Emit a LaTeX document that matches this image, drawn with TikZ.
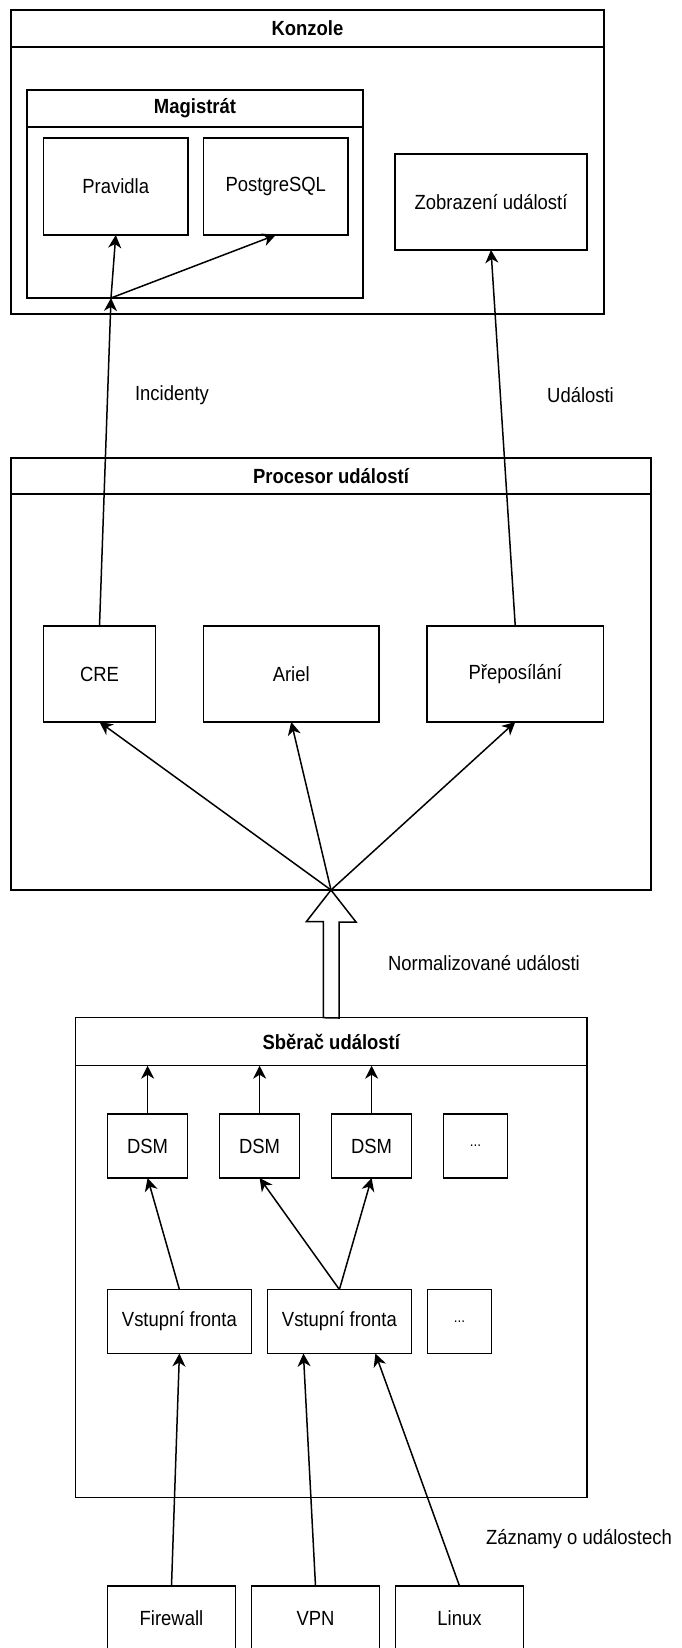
\documentclass[tikz,border=0pt]{standalone}
\usepackage{fontspec}
\setmainfont{Liberation Sans}[FakeStretch=0.9]
\usetikzlibrary{arrows.meta, positioning, calc}

\begin{document}
\begin{tikzpicture}[
    x=1pt, y=-1pt,
    line width=1.5pt,
    font=\fontsize{20.5}{24}\selectfont,
    node distance=16pt,
    box/.style={draw, rectangle, inner sep=0pt, outer sep=0pt, minimum height=96pt},
    group/.style={draw, rectangle, inner sep=0pt, outer sep=0pt},
    head/.style={draw, rectangle, inner sep=0pt, outer sep=0pt, font=\fontsize{20.5}{24}\selectfont\bfseries},
    lbl/.style={inner sep=0pt},
    arr/.style={-{Stealth[length=13pt, width=13pt, inset=4pt]}},
    fat/.style={fill=white, line join=miter}
]

\useasboundingbox (0,0) rectangle (682,1648);

% Konzole
\node[group, minimum width=593pt, minimum height=304pt] (konzole) at (307.5,162) {};
\node[head, minimum width=593pt, minimum height=37pt, below=0pt of konzole.north] (konzolehead) {Konzole};
\node[group, minimum width=336pt, minimum height=208pt] (magistrat) at (195,194) {};
\node[head, minimum width=336pt, minimum height=37pt, below=0pt of magistrat.north] (magistrathead) {Magistrát};
\node[box, minimum width=144.5pt, minimum height=97pt] (pravidla) at (115.75,186.5) {Pravidla};
\node[box, minimum width=144.5pt, minimum height=97pt, right=15.5pt of pravidla] (postgres) {PostgreSQL};
\node[box, minimum width=192pt] (zobrazeni) at (491,202) {Zobrazení událostí};

% Procesor
\node[group, minimum width=640pt, minimum height=432pt] (procesor) at (331,674) {};
\node[head, minimum width=640pt, minimum height=36pt, below=0pt of procesor.north] (procesorhead) {Procesor událostí};
\node[box, minimum width=112pt] (cre) at (99.5,674) {CRE};
\node[box, minimum width=175.5pt, right=48pt of cre] (ariel) {Ariel};
\node[box, minimum width=176.5pt, right=48pt of ariel] (preposilani) {Přeposílání};

% Sberac
\node[group, minimum width=511.4pt, minimum height=480pt] (sberac) at (331.3,1257.7) {};
\node[head, minimum width=511.4pt, minimum height=48pt, below=0pt of sberac.north] (sberachead) {Sběrač událostí};
\node[box, minimum width=80pt, minimum height=64pt] (dsm1) at (147.6,1146) {DSM};
\node[box, minimum width=80pt, minimum height=64pt, right=32pt of dsm1] (dsm2) {DSM};
\node[box, minimum width=80pt, minimum height=64pt, right=32pt of dsm2] (dsm3) {DSM};
\node[box, minimum width=64pt, minimum height=64pt, right=32pt of dsm3, font=\fontsize{15}{18}\selectfont] (dsmx) {...};
\node[box, minimum width=144pt, minimum height=64pt] (fronta1) at (179.4,1321.5) {Vstupní fronta};
\node[box, minimum width=144pt, minimum height=64pt, right=of fronta1] (fronta2) {Vstupní fronta};
\node[box, minimum width=64pt, minimum height=64pt, right=of fronta2, font=\fontsize{15}{18}\selectfont] (frontax) {...};

% zdroje
\node[box, minimum width=128pt, minimum height=64pt] (firewall) at (171.5,1618) {Firewall};
\node[box, minimum width=128pt, minimum height=64pt, right=of firewall] (vpn) {VPN};
\node[box, minimum width=128pt, minimum height=64pt, right=of vpn] (linux) {Linux};

\node[lbl] (incidenty) at (172,395) {Incidenty};
\node[lbl] (udalosti) at (580.5,395) {Události};
\node[lbl] (normalizovane) at (484,963) {Normalizované události};
\node[lbl] (zaznamy) at (579,1539) {Záznamy o událostech};

\coordinate (mgin) at ($(magistrat.south west)!.25!(magistrat.south east)$);
\coordinate (vpnin) at ($(fronta2.south west)!.25!(fronta2.south east)$);
\coordinate (linuxin) at ($(fronta2.south west)!.75!(fronta2.south east)$);

\draw[arr] (cre.north) -- (mgin);
\draw[arr] (mgin) -- (pravidla.south);
\draw[arr] (mgin) -- (postgres.south);
\draw[arr] (preposilani.north) -- (zobrazeni.south);

\draw[fat] (sberac.north) ++(-8,0) -- ++(0,-96) -- ++(-17,0) -- (procesor.south)
    -- ++(25,32) -- ++(-17,0) -- ++(0,96) -- cycle;

\draw[arr] (procesor.south) -- (cre.south);
\draw[arr] (procesor.south) -- (ariel.south);
\draw[arr] (procesor.south) -- (preposilani.south);

\foreach \d in {dsm1, dsm2, dsm3}
    \draw[arr] (\d.north) -- (\d.north |- sberachead.south);

\draw[arr] (fronta1.north) -- (dsm1.south);
\draw[arr] (fronta2.north) -- (dsm2.south);
\draw[arr] (fronta2.north) -- (dsm3.south);
\draw[arr] (firewall.north) -- (fronta1.south);
\draw[arr] (vpn.north) -- (vpnin);
\draw[arr] (linux.north) -- (linuxin);

\end{tikzpicture}
\end{document}
